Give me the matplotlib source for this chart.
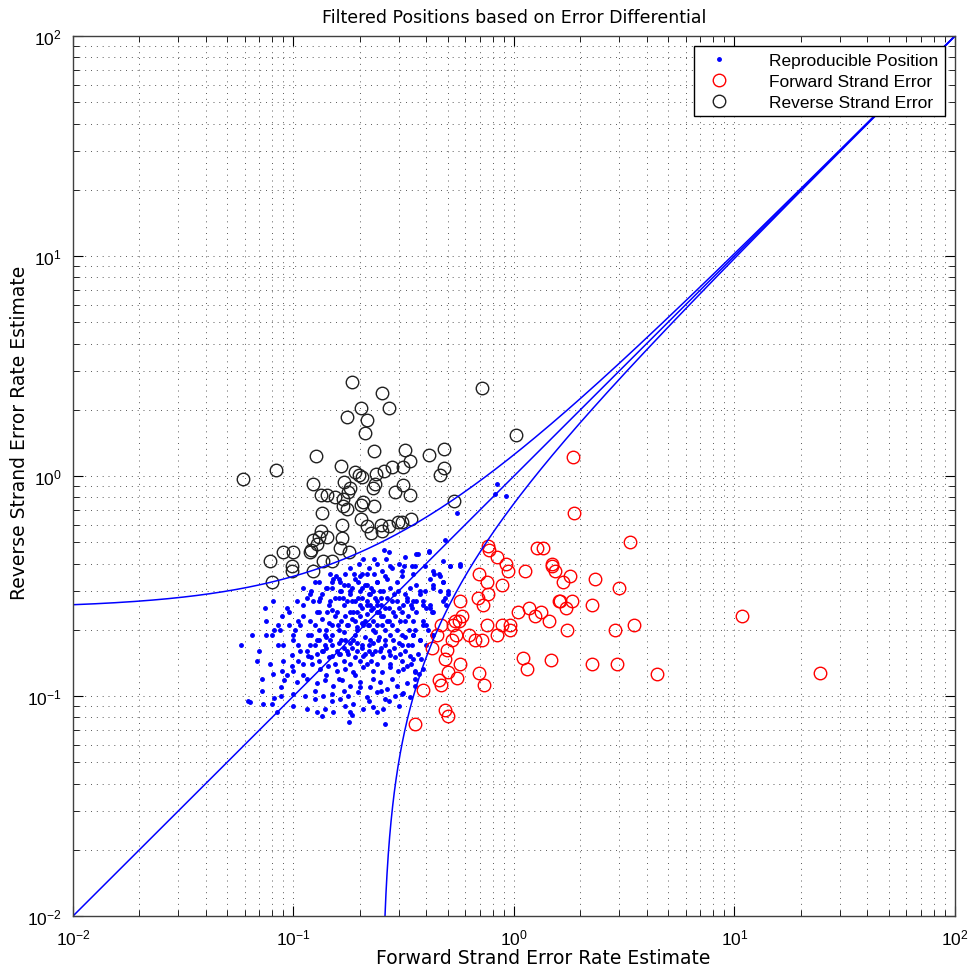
import numpy as np
import matplotlib.pyplot as plt

plt.rcParams['font.family'] = ['Liberation Sans', 'DejaVu Sans']
plt.rcParams['mathtext.fontset'] = 'custom'
plt.rcParams['mathtext.rm'] = 'Liberation Sans'

# Threshold used for the filter curves
threshold = 0.25

# Reproducible positions (blue dots): forward / reverse error estimates
repro_fwd = [
    0.257, 0.232, 0.207, 0.263, 0.367, 0.41,
    0.198, 0.215, 0.232, 0.252, 0.274, 0.31, 0.345, 0.395, 0.434, 0.457, 0.513, 0.569,
    0.146, 0.156, 0.171, 0.188, 0.205,
    0.131, 0.151, 0.162, 0.176, 0.196, 0.215, 0.239, 0.265, 0.295, 0.31, 0.36, 0.416, 0.477, 0.462,
    0.11, 0.119, 0.142, 0.15, 0.162, 0.18, 0.205, 0.222, 0.247, 0.274, 0.298, 0.338, 0.375, 0.43, 0.50,
    0.081, 0.093, 0.074, 0.104, 0.123, 0.132, 0.146, 0.168, 0.184, 0.196, 0.215, 0.239, 0.265, 0.295,
    0.327, 0.36, 0.387, 0.416, 0.477,
    0.089, 0.11, 0.119, 0.128, 0.142, 0.158, 0.171, 0.186, 0.205, 0.222, 0.239, 0.255, 0.283, 0.31,
    0.345, 0.387, 0.425,
    0.075, 0.082, 0.087, 0.102, 0.107, 0.116, 0.13, 0.139, 0.15, 0.159, 0.176, 0.194, 0.207, 0.218,
    0.229, 0.252, 0.274, 0.295, 0.31, 0.349, 0.387, 0.408,
    0.099, 0.105, 0.119, 0.128, 0.139, 0.146, 0.158, 0.171, 0.186, 0.205, 0.222, 0.242, 0.26, 0.283,
    0.31, 0.345, 0.375, 0.40,
    0.098, 0.107, 0.116, 0.128, 0.136, 0.15, 0.162, 0.176, 0.194, 0.207, 0.227, 0.247, 0.274, 0.304,
    0.338, 0.367,
    0.081, 0.089, 0.098, 0.11, 0.121, 0.132, 0.143, 0.158, 0.171, 0.186, 0.207, 0.229, 0.252, 0.274,
    0.298, 0.327, 0.356, 0.37,
    0.091, 0.104, 0.115, 0.128, 0.139, 0.151, 0.166, 0.18, 0.20, 0.222, 0.247, 0.265, 0.295, 0.327, 0.356,
    0.0635, 0.073, 0.08, 0.088, 0.099, 0.113, 0.125, 0.136, 0.15, 0.162, 0.176, 0.196, 0.215, 0.239,
    0.26, 0.289, 0.31, 0.338,
    0.084, 0.099, 0.115, 0.128, 0.139, 0.151, 0.171, 0.186, 0.207, 0.229, 0.255, 0.135, 0.184, 0.178, 0.26,
    0.84, 0.82, 0.92, 0.55, 0.487, 0.36, 0.41, 0.316, 0.356, 0.349, 0.43, 0.477, 0.513, 0.569, 0.462,
    0.477, 0.43, 0.50, 0.395, 0.375, 0.327, 0.349, 0.387, 0.416, 0.43, 0.40, 0.487, 0.49, 0.32, 0.356,
    0.40, 0.349, 0.375, 0.425, 0.43, 0.32, 0.349, 0.38, 0.314, 0.356, 0.387, 0.356, 0.314,
    0.19, 0.20, 0.21, 0.205, 0.215, 0.22, 0.195, 0.185, 0.18, 0.175, 0.17, 0.165, 0.16, 0.155, 0.15,
    0.145, 0.14, 0.135, 0.13, 0.125, 0.225, 0.23, 0.24, 0.25, 0.26, 0.27, 0.28, 0.29, 0.235, 0.245,
    0.19, 0.18, 0.17, 0.16, 0.15, 0.14, 0.13, 0.12, 0.21, 0.22, 0.20, 0.19, 0.18, 0.17, 0.16, 0.24,
    0.25, 0.23, 0.21, 0.26,
    0.07, 0.078, 0.085, 0.09, 0.095, 0.065, 0.072, 0.088, 0.10, 0.105,
    0.11, 0.115, 0.12, 0.125, 0.13, 0.135, 0.14, 0.145, 0.15, 0.155,
    0.165, 0.17, 0.175, 0.185, 0.19, 0.195, 0.2, 0.205, 0.215, 0.22,
    0.225, 0.23, 0.235, 0.24, 0.245, 0.25, 0.255, 0.265, 0.27, 0.28,
    0.285, 0.3, 0.305, 0.315, 0.32, 0.33, 0.335, 0.34, 0.35, 0.36,
    0.12, 0.125, 0.13, 0.135, 0.14, 0.145, 0.15, 0.155, 0.16, 0.165,
    0.17, 0.175, 0.18, 0.185, 0.19, 0.195, 0.2, 0.205, 0.21, 0.215,
    0.22, 0.225, 0.23, 0.235, 0.24, 0.25, 0.255, 0.26, 0.27, 0.275,
    0.285, 0.29, 0.3, 0.31, 0.32, 0.33, 0.34,
    0.105, 0.11, 0.115, 0.1, 0.095, 0.09, 0.085, 0.08, 0.075, 0.068,
    0.062, 0.058, 0.072, 0.082, 0.093, 0.16, 0.17, 0.19, 0.2, 0.23,
    0.25, 0.28, 0.3, 0.22, 0.18, 0.15, 0.14, 0.125, 0.24, 0.27,
    0.2, 0.18, 0.22, 0.24, 0.16, 0.26, 0.28, 0.3, 0.32, 0.27,
]
repro_rev = [
    0.46, 0.42, 0.42, 0.42, 0.44, 0.45,
    0.40, 0.36, 0.36, 0.37, 0.39, 0.37, 0.39, 0.39, 0.36, 0.36, 0.39, 0.40,
    0.36, 0.35, 0.36, 0.36, 0.36,
    0.33, 0.34, 0.33, 0.32, 0.33, 0.32, 0.33, 0.34, 0.33, 0.35, 0.32, 0.34, 0.33, 0.30,
    0.31, 0.29, 0.31, 0.31, 0.30, 0.30, 0.31, 0.29, 0.30, 0.31, 0.30, 0.31, 0.30, 0.31, 0.29,
    0.27, 0.25, 0.25, 0.27, 0.27, 0.28, 0.27, 0.28, 0.27, 0.28, 0.27, 0.27, 0.28, 0.27,
    0.28, 0.27, 0.26, 0.25, 0.27,
    0.23, 0.23, 0.22, 0.24, 0.24, 0.24, 0.23, 0.24, 0.25, 0.26, 0.24, 0.23, 0.24, 0.24,
    0.25, 0.22, 0.24,
    0.19, 0.20, 0.20, 0.20, 0.21, 0.19, 0.20, 0.19, 0.21, 0.21, 0.21, 0.20, 0.21, 0.21,
    0.20, 0.21, 0.19, 0.20, 0.19, 0.19, 0.21, 0.20,
    0.18, 0.17, 0.17, 0.18, 0.17, 0.18, 0.16, 0.18, 0.18, 0.17, 0.18, 0.18, 0.17, 0.18,
    0.17, 0.17, 0.18, 0.17,
    0.153, 0.16, 0.152, 0.155, 0.16, 0.152, 0.155, 0.155, 0.16, 0.152, 0.155, 0.16, 0.153, 0.155,
    0.152, 0.155,
    0.126, 0.13, 0.137, 0.14, 0.14, 0.133, 0.137, 0.13, 0.133, 0.129, 0.136, 0.13, 0.129, 0.136,
    0.13, 0.137, 0.13, 0.126,
    0.118, 0.116, 0.12, 0.114, 0.118, 0.111, 0.118, 0.111, 0.116, 0.11, 0.116, 0.108, 0.111, 0.114, 0.12,
    0.094, 0.092, 0.092, 0.10, 0.102, 0.10, 0.097, 0.10, 0.102, 0.097, 0.10, 0.104, 0.099, 0.104,
    0.097, 0.10, 0.102, 0.099,
    0.085, 0.09, 0.087, 0.085, 0.087, 0.085, 0.09, 0.092, 0.087, 0.089, 0.087, 0.081, 0.082, 0.076, 0.075,
    0.92, 0.83, 0.81, 0.68, 0.51, 0.44, 0.455, 0.39, 0.39, 0.36, 0.37, 0.41, 0.39, 0.39, 0.35,
    0.33, 0.32, 0.30, 0.30, 0.29, 0.27, 0.27, 0.27, 0.26, 0.24, 0.25, 0.28, 0.26, 0.22, 0.20,
    0.21, 0.19, 0.18, 0.19, 0.19, 0.16, 0.147, 0.147, 0.133, 0.129, 0.133, 0.111, 0.103,
    0.22, 0.23, 0.22, 0.215, 0.235, 0.21, 0.205, 0.225, 0.24, 0.21, 0.195, 0.22, 0.20, 0.23, 0.245,
    0.215, 0.20, 0.225, 0.24, 0.21, 0.245, 0.22, 0.21, 0.23, 0.20, 0.22, 0.21, 0.23, 0.195, 0.185,
    0.19, 0.175, 0.165, 0.175, 0.19, 0.165, 0.18, 0.19, 0.185, 0.17, 0.26, 0.27, 0.29, 0.26, 0.28, 0.26,
    0.28, 0.30, 0.32, 0.25,
    0.16, 0.14, 0.21, 0.17, 0.24, 0.19, 0.12, 0.11, 0.13, 0.22,
    0.26, 0.28, 0.30, 0.33, 0.27, 0.29, 0.31, 0.26, 0.33, 0.28,
    0.30, 0.32, 0.27, 0.31, 0.34, 0.24, 0.30, 0.28, 0.26, 0.29,
    0.31, 0.25, 0.28, 0.33, 0.24, 0.26, 0.30, 0.22, 0.25, 0.27,
    0.29, 0.25, 0.22, 0.26, 0.29, 0.23, 0.20, 0.26, 0.22, 0.24,
    0.15, 0.17, 0.145, 0.16, 0.185, 0.15, 0.17, 0.14, 0.155, 0.18,
    0.145, 0.16, 0.14, 0.165, 0.15, 0.175, 0.145, 0.165, 0.155, 0.14,
    0.16, 0.145, 0.175, 0.16, 0.14, 0.165, 0.15, 0.18, 0.16, 0.14,
    0.165, 0.15, 0.175, 0.145, 0.185, 0.17, 0.14,
    0.145, 0.125, 0.16, 0.19, 0.21, 0.145, 0.17, 0.19, 0.22, 0.145,
    0.095, 0.17, 0.105, 0.098, 0.125, 0.12, 0.105, 0.125, 0.11, 0.12,
    0.105, 0.12, 0.09, 0.095, 0.085, 0.095, 0.125, 0.105, 0.085, 0.095,
    0.35, 0.38, 0.38, 0.40, 0.34, 0.35, 0.38, 0.40, 0.43, 0.45,
]

# Forward strand error positions (red circles)
fwd_err_fwd = [
    1.85, 1.87, 0.762, 0.770, 0.838, 1.27, 1.35, 1.49, 1.49, 0.92, 0.94, 1.12, 0.694, 1.53, 1.80,
    1.67, 2.33, 0.755, 0.883, 0.762, 0.687, 0.723, 1.60, 1.62, 1.83, 1.72, 2.26, 0.569, 0.581, 0.563,
    0.540, 1.04, 1.17, 1.25, 1.33, 1.44, 0.755, 0.883, 0.959, 0.959, 1.74, 0.529, 0.546, 0.467, 0.448,
    0.625, 0.665, 0.716, 0.838, 0.524, 0.497, 0.425, 0.487, 0.569, 1.10, 1.15, 1.47, 2.26, 0.502,
    0.694, 0.731, 0.457, 0.467, 0.551, 0.387, 0.487, 0.502, 0.356, 3.36, 2.99, 3.50, 2.87, 10.8,
    2.93, 4.45, 24.4,
]
fwd_err_rev = [
    1.22, 0.68, 0.48, 0.46, 0.43, 0.47, 0.47, 0.40, 0.39, 0.40, 0.37, 0.37, 0.36, 0.37, 0.35,
    0.33, 0.34, 0.33, 0.32, 0.29, 0.28, 0.26, 0.27, 0.27, 0.27, 0.25, 0.26, 0.27, 0.23, 0.22,
    0.22, 0.24, 0.25, 0.23, 0.24, 0.22, 0.21, 0.21, 0.21, 0.20, 0.20, 0.21, 0.19, 0.21, 0.19,
    0.19, 0.18, 0.18, 0.19, 0.18, 0.162, 0.165, 0.147, 0.140, 0.149, 0.133, 0.146, 0.140, 0.129,
    0.127, 0.112, 0.118, 0.112, 0.121, 0.106, 0.086, 0.081, 0.075, 0.50, 0.31, 0.21, 0.20, 0.23,
    0.140, 0.126, 0.127,
]

# Reverse strand error positions (black circles)
rev_err_fwd = [
    0.184, 0.252, 0.716, 0.202, 0.271, 0.175, 0.215, 0.211, 1.02, 0.232, 0.320, 0.481, 0.412, 0.338,
    0.126, 0.083, 0.059, 0.164, 0.190, 0.198, 0.205, 0.237, 0.257, 0.280, 0.314, 0.481, 0.462, 0.123,
    0.169, 0.234, 0.229, 0.180, 0.177, 0.314, 0.289, 0.338, 0.133, 0.142, 0.154, 0.168, 0.535, 0.207,
    0.202, 0.168, 0.175, 0.232, 0.135, 0.202, 0.215, 0.249, 0.252, 0.271, 0.298, 0.310, 0.341, 0.224,
    0.166, 0.166, 0.133, 0.131, 0.142, 0.123, 0.120, 0.119, 0.128, 0.090, 0.099, 0.163, 0.178, 0.078,
    0.098, 0.136, 0.150, 0.080, 0.098, 0.123,
]
rev_err_rev = [
    2.67, 2.38, 2.51, 2.04, 2.04, 1.85, 1.80, 1.57, 1.54, 1.30, 1.31, 1.33, 1.25, 1.17,
    1.23, 1.06, 0.97, 1.11, 1.04, 1.01, 0.99, 1.02, 1.05, 1.10, 1.10, 1.09, 1.01, 0.92,
    0.94, 0.92, 0.88, 0.88, 0.85, 0.91, 0.85, 0.82, 0.82, 0.82, 0.80, 0.79, 0.77, 0.76,
    0.74, 0.73, 0.71, 0.73, 0.68, 0.64, 0.59, 0.60, 0.56, 0.59, 0.62, 0.62, 0.64, 0.55,
    0.60, 0.52, 0.56, 0.53, 0.53, 0.51, 0.46, 0.45, 0.49, 0.45, 0.45, 0.47, 0.45, 0.41,
    0.39, 0.41, 0.41, 0.33, 0.37, 0.37,
]

fig = plt.figure(figsize=(9.72, 9.70), dpi=100)
ax = fig.add_axes([0.0751, 0.0546, 0.9074, 0.9073])

ax.plot(repro_fwd, repro_rev, '.', color='blue', markersize=5, label='Reproducible Position')
ax.plot(fwd_err_fwd, fwd_err_rev, 'o', mfc='none', mec='red', markersize=9, mew=1.0,
        label='Forward Strand Error')
ax.plot(rev_err_fwd, rev_err_rev, 'o', mfc='none', mec='#202020', markersize=9, mew=1.0,
        label='Reverse Strand Error')

# filter boundaries: y = x, y = x + t, x = y + t
xs = np.geomspace(0.01, 100, 400)
ax.plot(xs, xs, color='blue', lw=1.1)
ax.plot(xs, xs + threshold, color='blue', lw=1.1)
ax.plot(xs + threshold, xs, color='blue', lw=1.1)

ax.set_xscale('log')
ax.set_yscale('log')
ax.set_xlim(0.01, 100)
ax.set_ylim(0.01, 100)

ax.grid(True, which='both', color='0.35', linestyle=(0, (1, 5)), linewidth=0.7)
ax.tick_params(which='both', direction='in', top=True, right=True, labelsize=12.5, colors='black')
ax.tick_params(which='major', length=7, pad=8)
ax.tick_params(which='minor', length=4)
for s in ax.spines.values():
    s.set_color('0.25')
    s.set_linewidth(1)

ax.set_title('Filtered Positions based on Error Differential', fontsize=12.5, pad=10,
             family='DejaVu Sans')
ax.set_xlabel('Forward Strand Error Rate Estimate', fontsize=13.5, family='DejaVu Sans')
ax.set_ylabel('Reverse Strand Error Rate Estimate', fontsize=13.5, family='DejaVu Sans')
ax.xaxis.set_label_coords(0.533, -0.036)
ax.yaxis.set_label_coords(-0.05, 0.55)

leg = ax.legend(loc='upper right', fontsize=12.5, fancybox=False, edgecolor='black',
                framealpha=1, borderaxespad=0.6, handletextpad=1.8, borderpad=0.35,
                labelspacing=0.35, handlelength=2.2)
leg.get_frame().set_linewidth(1)

fig.savefig('out.png', dpi=100)
